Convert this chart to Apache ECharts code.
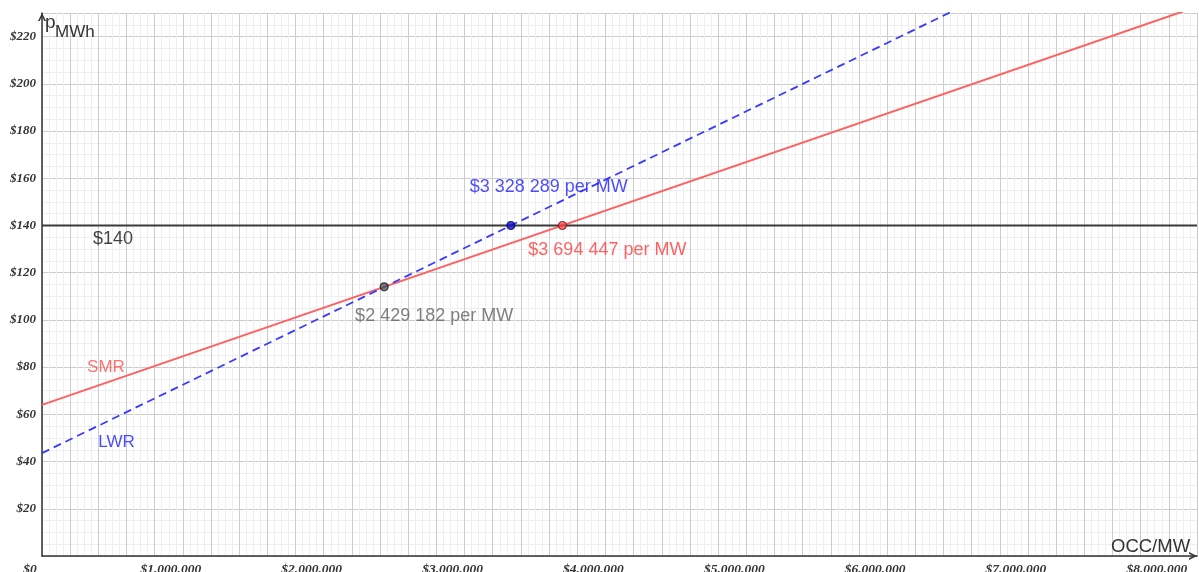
<!DOCTYPE html>
<html>
<head>
<meta charset="utf-8">
<script src="https://cdn.jsdelivr.net/npm/echarts/dist/echarts.min.js"></script>
<style>
  html, body { margin: 0; padding: 0; background: #fff; }
  #chart { width: 1199px; height: 572px; }
</style>
</head>
<body>
<div id="chart"></div>
<script>
// break-even lines: price per MWh vs overnight capital cost per MW
var smrLine = [[0, 64], [8200000, 232.7]];
var lwrLine = [[0, 43.6], [8200000, 281.0]];
var priceLine = [[0, 140], [8200000, 140]];

var crossPoints = [[3328289, 140], [3694447, 140], [2429182, 114]];
var crossLabels = ['$3 328 289 per MW', '$3 694 447 per MW', '$2 429 182 per MW'];

var noteTexts = ['SMR', 'LWR', '$140'];
var notePos = [[454000, 80], [529000, 48.3], [504000, 134.3]];

function dotted(v) {
    return String(v).replace(/\B(?=(\d{3})+(?!\d))/g, '.');
}

// open chevron used as the axis end arrow
var arrowPath = 'path://M0,10 L5,0 L10,10 L7.9,10 L5,4.2 L2.1,10 Z';

var crossStyles = [
    { fill: '#1010d0', border: '#000066', text: '#1f1fff', offset: [38, -38] },
    { fill: '#ff4a4a', border: '#702020', text: '#ff3b3b', offset: [45, 25] },
    { fill: '#5a5a5a', border: '#1a1a1a', text: '#606060', offset: [50, 29] }
];
var noteStyles = [
    { color: '#ff4d4d', size: 17 },
    { color: '#1a1aff', size: 17 },
    { color: '#111111', size: 18 }
];

var chartDom = document.getElementById('chart');
var myChart = echarts.init(chartDom);

var option = {
    animation: false,
    grid: { left: 42, right: 2, top: 13, bottom: 16, containLabel: false, outerBoundsMode: 'none' },
    xAxis: {
        type: 'value',
        min: 0,
        max: 8200000,
        interval: 200000,
        axisLine: {
            show: true,
            onZero: false,
            symbol: ['none', arrowPath],
            symbolSize: [12, 8],
            symbolOffset: [0, -4],
            lineStyle: { color: '#333', width: 1.5 }
        },
        axisTick: { show: false },
        axisLabel: {
            margin: 7,
            padding: [0, 24, 0, 0],
            fontFamily: 'Liberation Serif',
            fontStyle: 'italic',
            fontWeight: 'bold',
            fontSize: 13.5,
            color: '#333',
            showMaxLabel: true,
            formatter: function (v) {
                return v % 1000000 === 0 && v <= 8000000 ? '$' + dotted(v) : '';
            }
        },
        splitLine: { show: true, lineStyle: { color: '#cccccc', width: 1 } },
        minorTick: { show: false, splitNumber: 4 },
        minorSplitLine: { show: true, lineStyle: { color: '#efefef', width: 1 } }
    },
    yAxis: {
        type: 'value',
        min: 0,
        max: 230,
        interval: 20,
        axisLine: {
            show: true,
            onZero: false,
            symbol: ['none', arrowPath],
            symbolSize: [12, 8],
            symbolOffset: [0, -4],
            lineStyle: { color: '#333', width: 1.5 }
        },
        axisTick: { show: false },
        axisLabel: {
            margin: 6,
            fontFamily: 'Liberation Serif',
            fontStyle: 'italic',
            fontWeight: 'bold',
            fontSize: 13,
            color: '#333',
            formatter: function (v) {
                return v > 0 && v % 20 === 0 && v <= 220 ? '$' + v : '';
            }
        },
        splitLine: { show: true, lineStyle: { color: '#cccccc', width: 1 } },
        minorTick: { show: false, splitNumber: 4 },
        minorSplitLine: { show: true, lineStyle: { color: '#efefef', width: 1 } }
    },
    graphic: [
        { type: 'text', left: 45, top: 13, z: 10, style: { text: 'p', font: '19px "Liberation Sans"', fill: '#333' } },
        { type: 'text', left: 55, top: 24, z: 10, style: { text: 'MWh', font: '17px "Liberation Sans"', fill: '#333' } },
        { type: 'text', left: 1111, top: 537, z: 10, style: { text: 'OCC/MW', font: '18.5px "Liberation Sans"', fill: '#333' } }
    ],
    series: [
        {
            name: 'SMR',
            type: 'line',
            data: smrLine,
            symbol: 'none',
            clip: true,
            lineStyle: { color: '#ff6161', width: 2 },
            z: 3
        },
        {
            name: 'LWR',
            type: 'line',
            data: lwrLine,
            symbol: 'none',
            clip: true,
            lineStyle: { color: '#3a3aff', width: 1.8, type: [8, 5] },
            z: 3
        },
        {
            name: 'Price',
            type: 'line',
            data: priceLine,
            symbol: 'none',
            lineStyle: { color: '#3a3a3a', width: 2 },
            z: 4
        },
        {
            name: 'Crossings',
            type: 'scatter',
            symbolSize: 8,
            z: 5,
            data: crossPoints.map(function (p, i) {
                var s = crossStyles[i];
                return {
                    value: p,
                    itemStyle: { color: s.fill, borderColor: s.border, borderWidth: 1.2 },
                    label: {
                        show: true,
                        position: 'inside',
                        offset: s.offset,
                        formatter: crossLabels[i],
                        fontFamily: 'Liberation Sans',
                        fontSize: 18,
                        color: s.text
                    }
                };
            })
        },
        {
            name: 'Notes',
            type: 'scatter',
            symbolSize: 0,
            z: 5,
            silent: true,
            data: notePos.map(function (p, i) {
                var s = noteStyles[i];
                return {
                    value: p,
                    label: {
                        show: true,
                        position: 'inside',
                        formatter: noteTexts[i],
                        fontFamily: 'Liberation Sans',
                        fontSize: s.size,
                        color: s.color
                    }
                };
            })
        }
    ]
};

myChart.setOption(option);
window.addEventListener('resize', function () {
    myChart.resize();
});
</script>
</body>
</html>
